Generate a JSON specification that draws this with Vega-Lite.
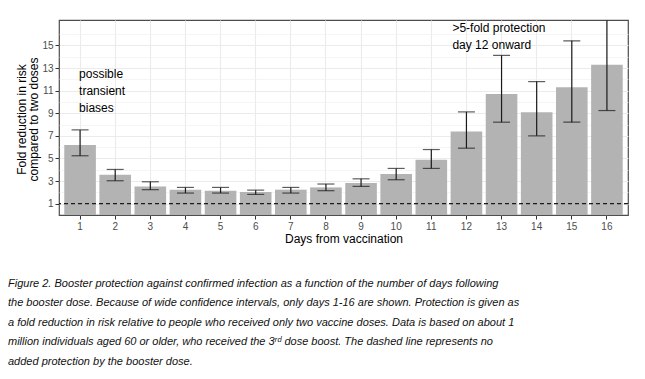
{
  "$schema": "https://vega.github.io/schema/vega-lite/v6.json",
  "width": 569,
  "height": 195,
  "autosize": {"type": "none"},
  "padding": {"left": 59, "top": 20, "right": 17, "bottom": 164},
  "background": "white",
  "config": {
    "view": {"stroke": "#4d4d4d", "strokeWidth": 1.2},
    "font": "Liberation Sans"
  },
  "title": {
    "text": [
      "Figure 2. Booster protection against confirmed infection as a function of the number of days following",
      "the booster dose. Because of wide confidence intervals, only days 1-16 are shown. Protection is given as",
      "a fold reduction in risk relative to people who received only two vaccine doses. Data is based on about 1",
      "million individuals aged 60 or older, who received the 3ʳᵈ dose boost. The dashed line represents no",
      "added protection by the booster dose."
    ],
    "orient": "bottom",
    "anchor": "start",
    "frame": "group",
    "dx": -51,
    "offset": 34,
    "fontSize": 11,
    "fontStyle": "italic",
    "fontWeight": "normal",
    "color": "#111111",
    "lineHeight": 19.4,
    "font": "Liberation Sans"
  },
  "data": {
    "values": [
      {"day": 1, "value": 6.2, "lo": 5.24, "hi": 7.53},
      {"day": 2, "value": 3.56, "lo": 3.03, "hi": 4.03},
      {"day": 3, "value": 2.53, "lo": 2.24, "hi": 2.94},
      {"day": 4, "value": 2.24, "lo": 1.94, "hi": 2.44},
      {"day": 5, "value": 2.15, "lo": 1.94, "hi": 2.44},
      {"day": 6, "value": 2.03, "lo": 1.82, "hi": 2.2},
      {"day": 7, "value": 2.24, "lo": 1.94, "hi": 2.44},
      {"day": 8, "value": 2.44, "lo": 2.15, "hi": 2.74},
      {"day": 9, "value": 2.83, "lo": 2.53, "hi": 3.2},
      {"day": 10, "value": 3.62, "lo": 3.12, "hi": 4.12},
      {"day": 11, "value": 4.88, "lo": 4.12, "hi": 5.79},
      {"day": 12, "value": 7.38, "lo": 5.91, "hi": 9.12},
      {"day": 13, "value": 10.71, "lo": 8.21, "hi": 14.12},
      {"day": 14, "value": 9.09, "lo": 7.0, "hi": 11.8},
      {"day": 15, "value": 11.3, "lo": 8.21, "hi": 15.41},
      {"day": 16, "value": 13.3, "lo": 9.24, "hi": 18.5}
    ]
  },
  "layer": [
    {
      "mark": {"type": "bar", "color": "#B3B3B3"},
      "encoding": {
        "x": {
          "field": "day",
          "type": "ordinal",
          "scale": {"paddingInner": 0.1, "paddingOuter": 0.15},
          "axis": {
            "title": "Days from vaccination",
            "titleFontSize": 12,
            "titleFontWeight": "normal",
            "titleColor": "#000000",
            "titlePadding": 2,
            "labelAngle": 0,
            "labelFontSize": 10,
            "labelColor": "#4D4D4D",
            "labelPadding": 2,
            "tickColor": "#333333",
            "tickSize": 4,
            "domain": false,
            "grid": true,
            "gridColor": "#EBEBEB",
            "gridWidth": 1.1,
            "bandPosition": 0.5
          }
        },
        "y": {
          "field": "value",
          "type": "quantitative",
          "scale": {"domain": [0, 17.25], "nice": false, "zero": false},
          "axis": {
            "values": [1, 3, 5, 7, 9, 11, 13, 15],
            "title": ["Fold reduction in risk", "compared to two doses"],
            "titleFontSize": 12,
            "titleFontWeight": "normal",
            "titleColor": "#000000",
            "titleLineHeight": 11.5,
            "titleX": -37.5,
            "titleY": 99,
            "titleAngle": -90,
            "titleAlign": "center",
            "titleBaseline": "middle",
            "labelFontSize": 10,
            "labelColor": "#4D4D4D",
            "labelPadding": 2,
            "tickColor": "#333333",
            "tickSize": 4,
            "domain": false,
            "grid": true,
            "gridColor": "#EBEBEB",
            "gridWidth": 1.1
          }
        }
      }
    },
    {
      "mark": {"type": "rule", "color": "#1a1a1a", "strokeWidth": 1.2, "clip": true},
      "encoding": {
        "x": {"field": "day", "type": "ordinal"},
        "y": {
          "field": "lo",
          "type": "quantitative",
          "axis": {
            "orient": "right",
            "values": [2, 4, 6, 8, 10, 12, 14, 16],
            "labels": false,
            "ticks": false,
            "domain": false,
            "title": null,
            "grid": true,
            "gridColor": "#F0F0F0",
            "gridWidth": 0.7
          }
        },
        "y2": {"field": "hi"}
      }
    },
    {
      "mark": {"type": "tick", "color": "#1a1a1a", "thickness": 1.2, "size": 17},
      "encoding": {
        "x": {"field": "day", "type": "ordinal"},
        "y": {"field": "lo", "type": "quantitative", "axis": null}
      }
    },
    {
      "mark": {"type": "tick", "color": "#1a1a1a", "thickness": 1.2, "size": 17, "clip": true},
      "encoding": {
        "x": {"field": "day", "type": "ordinal"},
        "y": {"field": "hi", "type": "quantitative", "axis": null}
      }
    },
    {
      "data": {"values": [{}]},
      "mark": {"type": "rule", "color": "#1a1a1a", "strokeWidth": 1.2, "strokeDash": [4, 3]},
      "encoding": {
        "y": {"datum": 1, "type": "quantitative", "axis": null}
      }
    },
    {
      "data": {"values": [{}]},
      "mark": {"type": "text", "align": "left", "baseline": "middle", "fontSize": 12, "lineHeight": 17, "color": "#000000", "dx": -1},
      "encoding": {
        "x": {"datum": 1, "type": "ordinal"},
        "y": {"datum": 12.5, "type": "quantitative", "axis": null},
        "text": {"value": ["possible", "transient", "biases"]}
      }
    },
    {
      "data": {"values": [{}]},
      "mark": {"type": "text", "align": "left", "baseline": "middle", "fontSize": 12, "lineHeight": 17, "color": "#000000", "dx": -14},
      "encoding": {
        "x": {"datum": 12, "type": "ordinal"},
        "y": {"datum": 16.5, "type": "quantitative", "axis": null},
        "text": {"value": [">5-fold protection", "day 12 onward"]}
      }
    }
  ],
  "resolve": {"scale": {"y": "shared", "x": "shared"}, "axis": {"y": "independent"}}
}
